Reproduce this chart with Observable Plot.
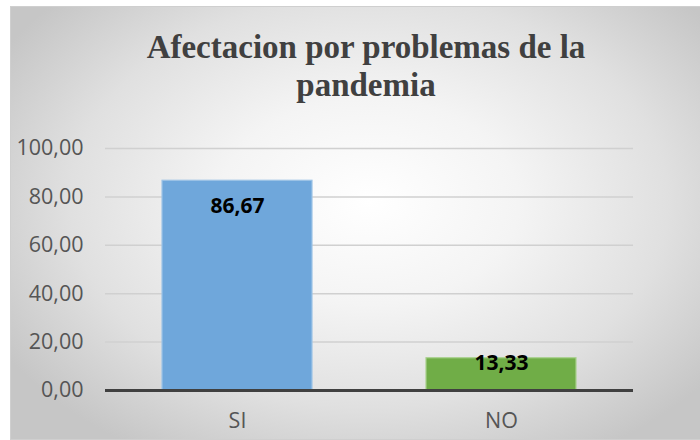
<!DOCTYPE html>
<html>
<head>
<meta charset="utf-8">
<script src="https://cdn.jsdelivr.net/npm/d3@7"></script>
<script src="https://cdn.jsdelivr.net/npm/@observablehq/plot@0.6"></script>
<style>
  html, body { margin: 0; padding: 0; background: #ffffff; }
  #frame {
    position: absolute; left: 10px; top: 6px; width: 689px; height: 432px;
    border: 1px solid #cfcfcf; border-right: none;
    background: radial-gradient(ellipse 62% 68% at 52% 45%, #ffffff 0%, #f4f4f4 35%, #e0e0e0 70%, #c6c6c6 100%);
    overflow: hidden;
  }
  #title {
    position: absolute; left: 0; top: 21px; width: 710px; text-align: center;
    font-family: "Liberation Serif", "Times New Roman", serif; font-weight: bold;
    font-size: 33px; line-height: 38px; color: #404040;
  }
  #chart { position: absolute; left: 0; top: 114px; }
</style>
</head>
<body>
<div id="frame">
  <div id="title">Afectacion por problemas de la<br>pandemia</div>
  <div id="chart"></div>
</div>
<script>
const categories = ["SI", "NO"];
const values = [86.67, 13.33];
const colors = ["#6fa7db", "#70ad47"];
const yTicks = [0, 20, 40, 60, 80, 100];

const data = categories.map((c, i) => ({category: c, value: values[i], color: colors[i]}));
const fmt = v => v.toFixed(2).replace(".", ",");

const plot = Plot.plot({
  width: 689,
  height: 318,
  marginLeft: 94,
  marginRight: 67,
  marginTop: 27,
  marginBottom: 49,
  style: {background: "transparent", fontFamily: "'Open Sans', sans-serif", fontSize: "21.5px", color: "#555555", overflow: "visible"},
  x: {domain: categories, paddingInner: 0.43, paddingOuter: 0.215, label: null, tickSize: 0, tickPadding: 22},
  y: {domain: [0, 100], ticks: yTicks, tickFormat: fmt, label: null, tickSize: 0, tickPadding: 22},
  marks: [
    Plot.gridY(yTicks, {stroke: "#d0d0d0", strokeOpacity: 1, strokeWidth: 1.5}),
    Plot.barY(data, {x: "category", y: "value", fill: "color", stroke: d => d.category === "SI" ? "#9dc3e6" : "#a9d18e", strokeWidth: 1.2}),
    Plot.ruleY([0], {stroke: "#404040", strokeWidth: 3}),
    Plot.text(data.filter(d => d.category === "SI"), {x: "category", y: "value", text: d => fmt(d.value), dy: 26, fontWeight: "bold", fontSize: 21, fill: "#000000"}),
    Plot.text(data.filter(d => d.category === "NO"), {x: "category", y: "value", text: d => fmt(d.value), dy: 5, fontWeight: "bold", fontSize: 21, fill: "#000000"})
  ]
});
document.getElementById("chart").appendChild(plot);
</script>
</body>
</html>
